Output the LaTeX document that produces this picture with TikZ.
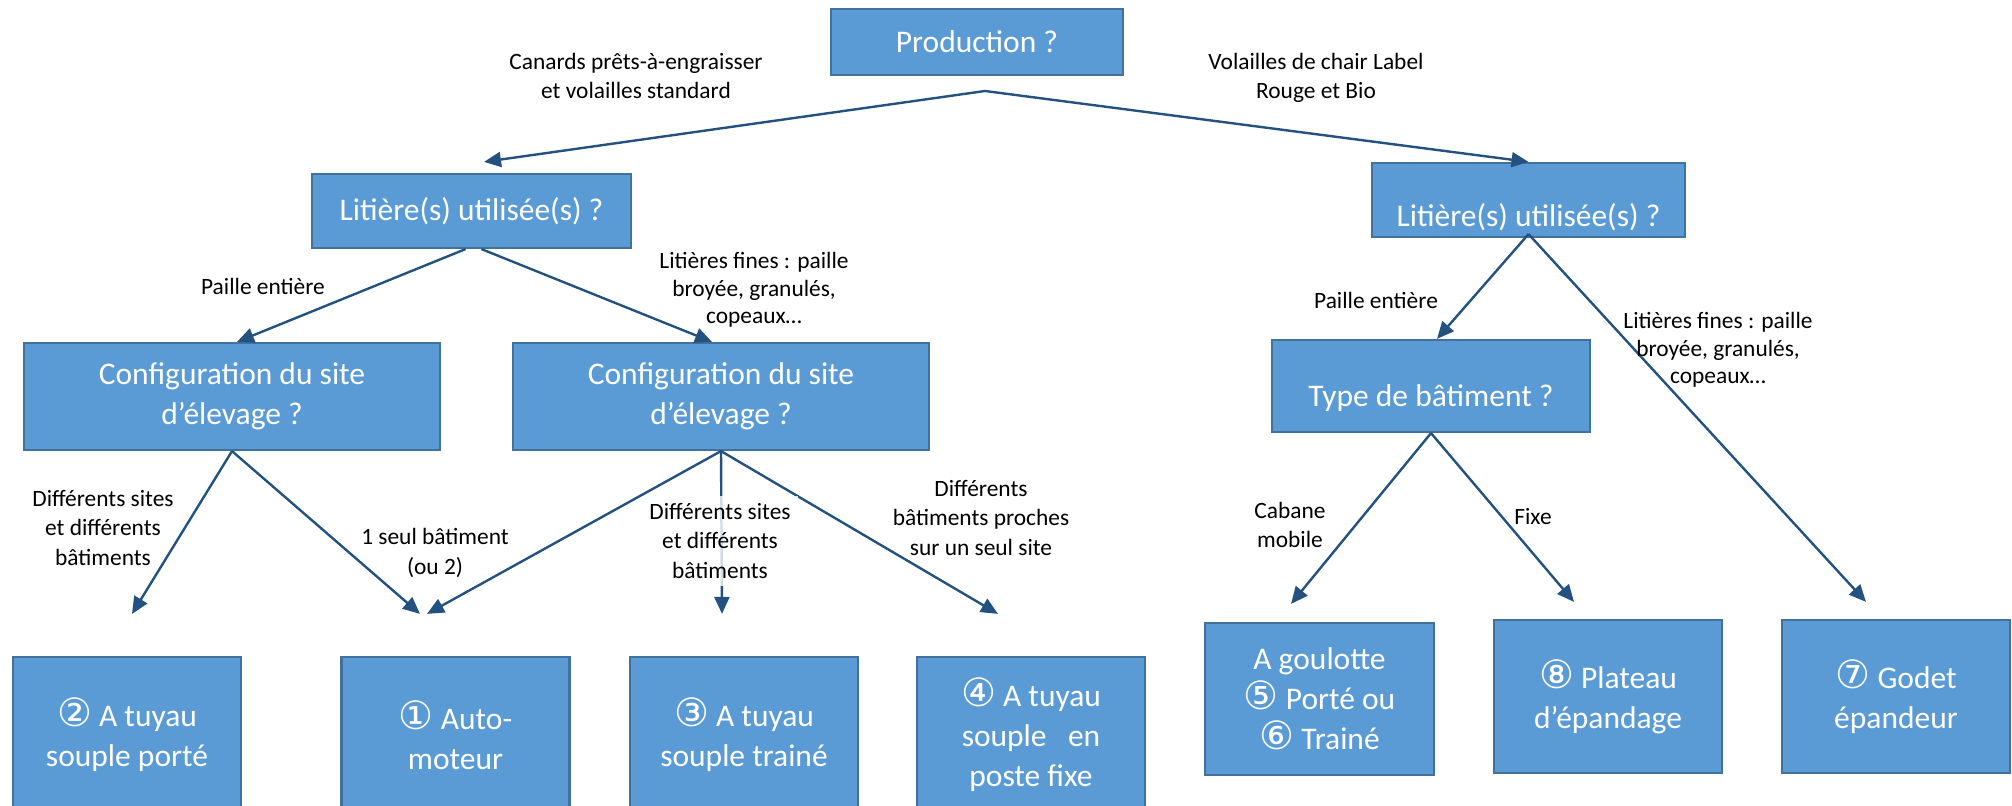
\documentclass[tikz,border=0pt]{standalone}
\usepackage{fontspec}
\setmainfont{Carlito}
\newfontfamily\circfont{DejaVu Sans}
\usepackage{tikz}
\usetikzlibrary{arrows.meta,positioning}
\definecolor{qblue}  {RGB}{91,155,213}
\definecolor{qedge}  {RGB}{65,113,156}
\definecolor{arrblue}{RGB}{35,82,128}
\newcommand{\bxfont}{\fontsize{15.75pt}{20pt}\selectfont}
\newcommand{\lbfont}{\fontsize{11.7pt}{14.75pt}\selectfont}
\newcommand{\cnum}[1]{{\circfont\fontsize{19.5pt}{20pt}\selectfont #1}}
\tikzset{
  qbox/.style={draw=qedge, fill=qblue, line width=1.1pt, text=white,
               align=center, font=\bxfont, inner sep=2pt,
               minimum width=#1},
  qbox/.default=114pt,
  lbl/.style ={align=center, font=\lbfont, inner sep=0pt},
  flbl/.style={lbl, font=\fontsize{11.7pt}{13.75pt}\selectfont},
  arr/.style ={draw=arrblue, line width=1.2pt,
               -{Triangle[length=8.5pt,width=7.5pt]}},
}
\begin{document}
\begin{tikzpicture}[x=0.5pt,y=-0.5pt]
  \useasboundingbox (0,0) rectangle (2012,806);
  \clip (0,0) rectangle (2012,806);
  %% questions
  \node[qbox=146pt, minimum height=33pt] (prod) at (977,42) {Production ?};
  \node[qbox=159.5pt, minimum height=37pt] (litL) at (471.5,211) {Litière(s) utilisée(s) ?};
  \node[qbox=156.5pt, minimum height=37pt] (litR) at (1528.5,200)
    {\raisebox{-13.5pt}[0pt][0pt]{Litière(s) utilisée(s) ?}};
  \node[qbox=208pt, minimum height=53.5pt] (cfgL) at (232,396.5) {Configuration du site\\d’élevage ?};
  \node[qbox=208pt, minimum height=53.5pt] (cfgM) at (721,396.5) {Configuration du site\\d’élevage ?};
  \node[qbox=159pt, minimum height=46pt] (typ) at (1431,386)
    {\raisebox{-10.5pt}[0pt][0pt]{Type de bâtiment ?}};
  %% spreaders
  \node[qbox, minimum height=78pt] (b2) at (127,735) {\cnum{②} A tuyau\\souple porté};
  \node[qbox, minimum height=78pt] (b1) at (455.5,735) {\cnum{①} Auto-\\moteur};
  \node[qbox, minimum height=78pt] (b3) at (744,735) {\cnum{③} A tuyau\\souple trainé};
  \node[qbox, minimum height=78pt] (b4) at (1031,735) {\cnum{④} A tuyau\\souple~~~en\\poste fixe};
  \node[qbox=114.5pt, minimum height=76pt] (b56) at (1319.5,699) {A goulotte\\\cnum{⑤} Porté ou\\\cnum{⑥} Trainé};
  \node[qbox, minimum height=76.5pt] (b8) at (1608,696.5) {\cnum{⑧} Plateau\\d’épandage};
  \node[qbox, minimum height=76.5pt] (b7) at (1896,696.5) {\cnum{⑦} Godet\\épandeur};
  %% arrow ends
  \coordinate (split) at (985,91);
  \coordinate (e2)  at ([xshift=2.5pt,yshift=21pt]b2.north);
  \coordinate (e1a) at ([xshift=-17.75pt,yshift=21pt]b1.north);
  \coordinate (e1b) at ([xshift=-14.25pt,yshift=21pt]b1.north);
  \coordinate (e3)  at ([xshift=-11pt,yshift=21pt]b3.north);
  \coordinate (e4)  at ([xshift=-16.5pt,yshift=21pt]b4.north);
  \coordinate (e56) at ([xshift=-14.25pt,yshift=9pt]b56.north);
  \coordinate (e8)  at ([xshift=-17pt,yshift=8.5pt]b8.north);
  \coordinate (e7)  at ([xshift=-15pt,yshift=8.5pt]b7.north);
  \draw[arr] (split) -- ([xshift=6.25pt,yshift=5.5pt]litL.north);
  \draw[arr] (split) -- (litR.north);
  \draw[arr] ([xshift=-3pt]litL.south) -- ([xshift=2.5pt]cfgL.north);
  \draw[arr] ([xshift=5pt]litL.south) -- ([xshift=-4.5pt]cfgM.north);
  \draw[arr] (cfgL.south) -- (e2);
  \draw[arr] (cfgL.south) -- (e1a);
  \draw[arr] (cfgM.south) -- (e1b);
  \draw[arr] (cfgM.south) -- (e3);
  \draw[arr] (cfgM.south) -- (e4);
  \draw[arr] ([yshift=2pt]litR.south) -- ([xshift=3pt]typ.north);
  \draw[arr] ([yshift=2pt]litR.south) -- (e7);
  \draw[arr] (typ.south) -- (e56);
  \draw[arr] (typ.south) -- (e8);
  %% labels
  \node[lbl] (lCanard) at (636,76) {Canards prêts-à-engraisser\\et volailles standard};
  \node[lbl] (lLabel) at (1316,78) {Volailles de chair Label\\Rouge et Bio};
  \node[lbl] (lPailleL) at (263,286) {Paille entière};
  \node[flbl] (lFinesL) at (754,290) {Litières fines : paille\\broyée, granulés,\\copeaux…};
  \node[lbl] (lPailleR) at (1376,300) {Paille entière};
  \node[flbl] (lFinesR) at (1718,350) {Litières fines : paille\\broyée, granulés,\\copeaux…};
  \node[lbl] (lDiffL) at (103,528) {Différents sites\\et différents\\bâtiments};
  \node[lbl] (lSeul) at (435,553) {1 seul bâtiment\\(ou 2)};
  \node[lbl, fill=white, fill opacity=0.8, text opacity=1, inner sep=3.5pt] (lDiffM) at (720,541)
    {Différents sites\\et différents\\bâtiments};
  \node[lbl] (lProches) at (981,518) {Différents\\bâtiments proches\\sur un seul site};
  \node[lbl] (lCabane) at (1290,525) {Cabane\\mobile};
  \node[lbl] (lFixe) at (1533,517) {Fixe};
\end{tikzpicture}
\end{document}
